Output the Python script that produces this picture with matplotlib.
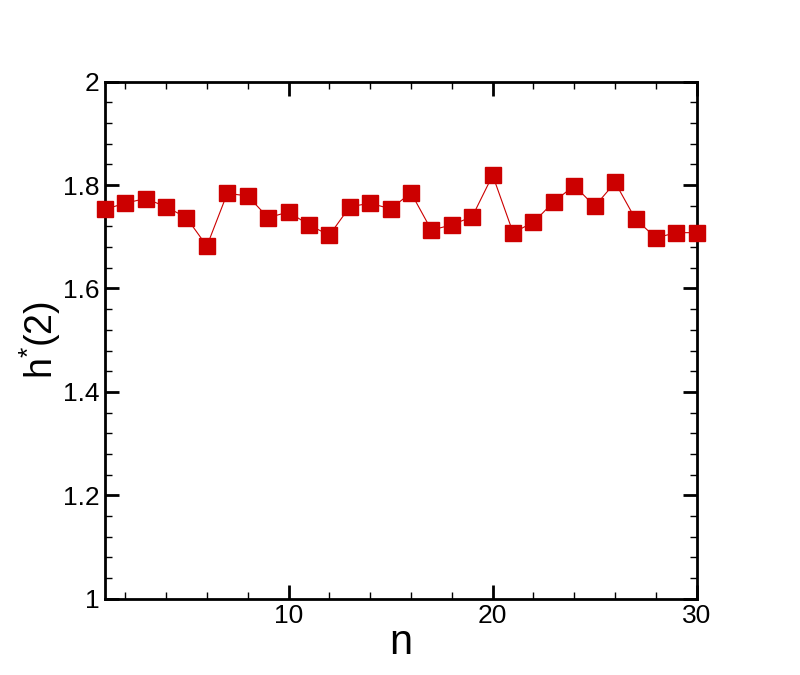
import numpy as np
import matplotlib
matplotlib.use("Agg")
import matplotlib.pyplot as plt
from matplotlib.ticker import MultipleLocator

# values
n = list(range(1, 31))
h2 = [1.753, 1.765, 1.774, 1.758, 1.737, 1.682, 1.784, 1.779, 1.737, 1.748,
      1.723, 1.703, 1.758, 1.765, 1.754, 1.785, 1.713, 1.723, 1.739, 1.819,
      1.708, 1.728, 1.768, 1.799, 1.759, 1.805, 1.734, 1.698, 1.708, 1.708]

plt.rcParams['font.family'] = ['Liberation Sans', 'DejaVu Sans']
plt.rcParams['mathtext.fontset'] = 'custom'
plt.rcParams['mathtext.rm'] = 'Liberation Sans'

fig = plt.figure(figsize=(8, 6.75), dpi=100)
ax = fig.add_axes([0.131, 0.113, 0.740, 0.766])

ax.plot(n, h2, color='#cc0000', lw=0.8, marker='s', markersize=11,
        markerfacecolor='#cc0000', markeredgecolor='#cc0000', clip_on=False, zorder=3)

ax.set_xlim(1, 30)
ax.set_ylim(1, 2)
ax.xaxis.set_major_locator(MultipleLocator(10))
ax.xaxis.set_minor_locator(MultipleLocator(2))
ax.yaxis.set_minor_locator(MultipleLocator(0.04))
ax.set_yticks([1, 1.2, 1.4, 1.6, 1.8, 2])
ax.set_yticklabels(['1', '1.2', '1.4', '1.6', '1.8', '2'])

ax.tick_params(which='both', direction='in', top=True, right=True, labelsize=19, pad=4)
ax.tick_params(which='major', length=10, width=2)
ax.tick_params(which='minor', length=5, width=1)
for s in ax.spines.values():
    s.set_linewidth(2)

ax.set_xlabel('n', fontsize=30, labelpad=-4)
ax.set_ylabel(r'h$^{\mathrm{*}}$(2)', fontsize=27, labelpad=0)

fig.savefig('out.png', dpi=100)
